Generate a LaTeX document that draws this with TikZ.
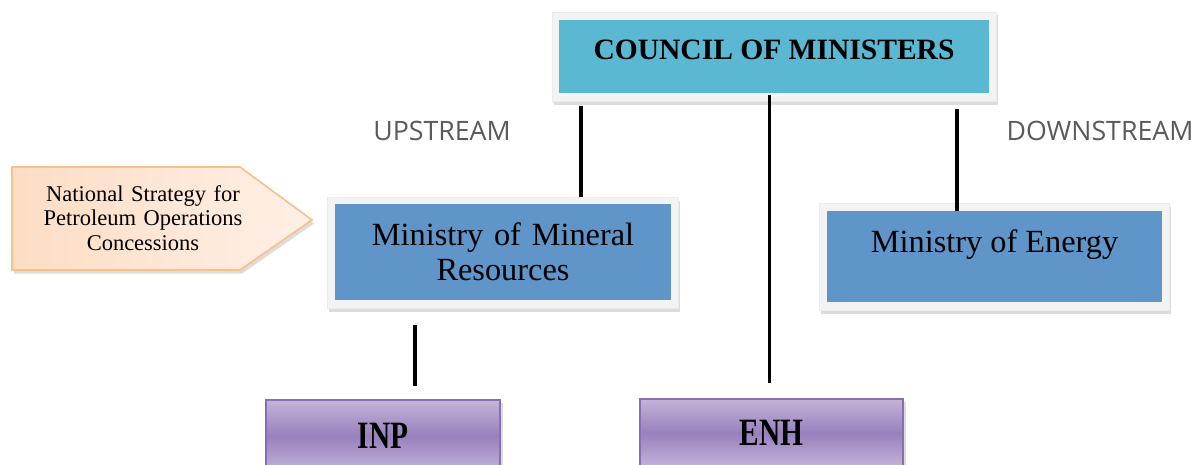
\documentclass[tikz,border=0pt]{standalone}
\usepackage{fontspec}
\setmainfont{Liberation Serif}
\newfontfamily\streamfont{Open Sans}
\usetikzlibrary{shadows, positioning}

\definecolor{councilcyan}{HTML}{5BB8D2}
\definecolor{ministryblue}{HTML}{6095C9}
\definecolor{framegray}{HTML}{F3F3F3}
\definecolor{agencylight}{HTML}{C2B4D8}
\definecolor{agencydark}{HTML}{9980BE}
\definecolor{agencyedge}{HTML}{8A6FB0}
\definecolor{peachdark}{HTML}{FDDDC4}
\definecolor{peachlight}{HTML}{FEF0E6}
\definecolor{peachedge}{HTML}{F9C08F}
\definecolor{streamgray}{HTML}{5A5A5A}

\tikzstyle{frame} = [rectangle, fill=framegray, draw=black!8, line width=0.3pt,
drop shadow={shadow xshift=1.5pt, shadow yshift=-2.5pt, opacity=0.3, fill=black!45}]
\tikzstyle{ministry} = [rectangle, fill=ministryblue, text centered, inner sep=0pt,
font=\fontsize{23}{25}\selectfont]
\tikzstyle{agency} = [rectangle, top color=agencylight, bottom color=agencylight,
middle color=agencydark, draw=agencyedge, line width=1.2pt, inner sep=0pt,
font=\bfseries\fontsize{22}{24}\selectfont,
drop shadow={shadow xshift=2pt, shadow yshift=-2pt, opacity=0.3, fill=black!45}]
\tikzstyle{stream} = [font=\streamfont\fontsize{19}{22}\selectfont, text=streamgray]
\tikzstyle{link} = [line width=2.8pt, black]

\begin{document}
\begin{tikzpicture} [x=0.025cm, y=-0.025cm]
  \useasboundingbox (0,0) rectangle (1200,465);
  \clip (0,0) rectangle (1200,465);

  % top
  \node (councilframe) [frame, minimum width=11.1cm, minimum height=2.225cm] at (774,56.5) {};
  \node (council) [rectangle, fill=councilcyan, minimum width=10.75cm, inner xsep=0pt,
    inner ysep=0.4cm, text height=0.6cm, text depth=0.425cm,
    font=\bfseries\fontsize{21}{22}\selectfont] at (774,56.5) {COUNCIL OF MINISTERS};

  % ministries
  \node (mineralframe) [frame, minimum width=8.775cm, minimum height=2.775cm] at (502.5,252.5) {};
  \node (mineral) [ministry, minimum width=8.4cm, minimum height=2.4cm, text width=8.4cm]
    at (503,252) {Ministry of Mineral\\Resources};
  \node (energyframe) [frame, minimum width=8.75cm, minimum height=2.675cm] at (994,256.5) {};
  \node (energy) [ministry, minimum width=8.375cm, inner ysep=0.45cm, text height=0.6cm,
    text depth=0.775cm] at (994.5,256.5) {Ministry of Energy};

  % agencies
  \node (inp) [agency, minimum width=5.85cm, minimum height=1.8cm] at (383,436)
    {\scalebox{0.95}[1.25]{INP}};
  \node (enh) [agency, minimum width=6.575cm, minimum height=1.7cm] at (771.5,433)
    {\scalebox{0.95}[1.25]{ENH}};

  % labels
  \node (upstream) [stream] at (442,131) {UPSTREAM};
  \node (downstream) [stream] at (1100,131) {DOWNSTREAM};

  % strategy arrow
  \draw[draw=peachedge, line width=1.2pt, left color=peachdark, right color=peachlight,
    drop shadow={shadow xshift=1.5pt, shadow yshift=-2.5pt, opacity=0.3, fill=black!45}]
    (12,167) -- (240,167) -- (312,220) -- (240,270) -- (12,270) -- cycle;
  \node (strategy) [text centered, text width=5cm, font=\fontsize{16}{17.5}\selectfont] at (143,218)
    {National Strategy for\\Petroleum Operations\\Concessions};

  % connectors
  \coordinate (upx) at (581,0);
  \coordinate (midx) at (769.5,0);
  \coordinate (downx) at (957,0);
  \coordinate (inpx) at (415,0);
  \draw[link, shorten <=0.125cm] (councilframe.south -| upx) -- (mineralframe.north -| upx);
  \draw[link, shorten <=0.05cm, shorten >=0.375cm] (council.south -| midx) -- (enh.north -| midx);
  \draw[link, shorten <=0.2cm] (councilframe.south -| downx) -- (energy.north -| downx);
  \draw[link, shorten <=0.425cm, shorten >=0.325cm] (mineralframe.south -| inpx) -- (inp.north -| inpx);
\end{tikzpicture}
\end{document}
